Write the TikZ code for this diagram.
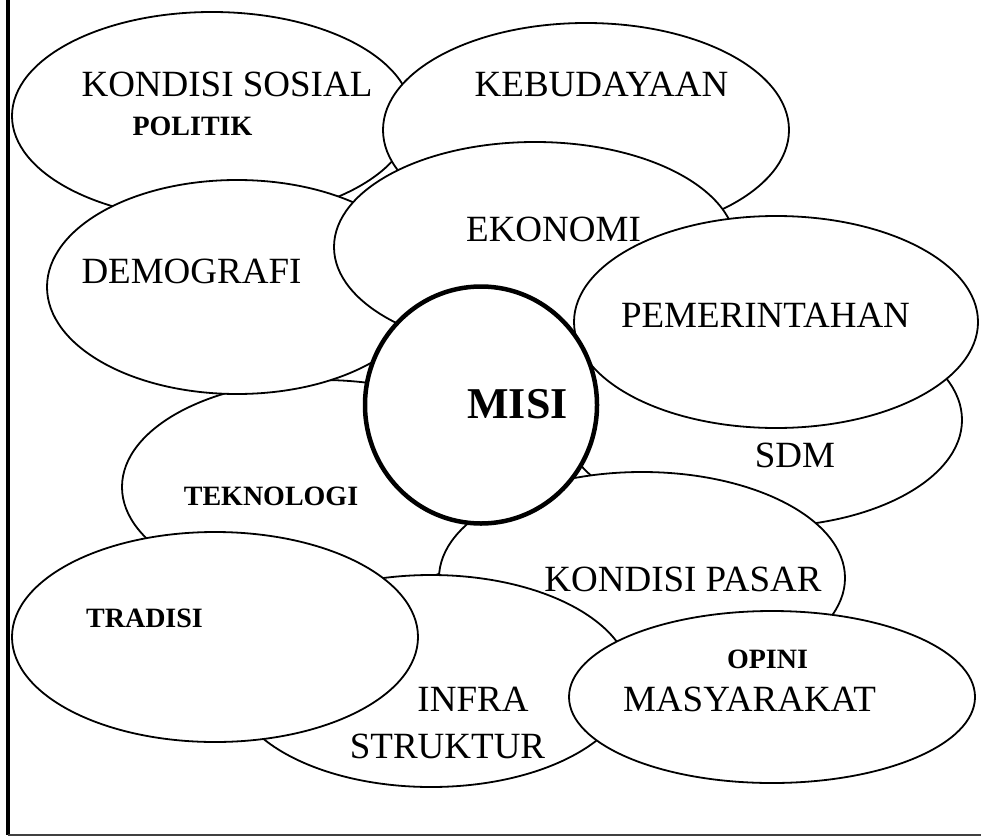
\documentclass[tikz,border=0pt]{standalone}
\usepackage{fontspec}
\setmainfont{Liberation Serif}
\usetikzlibrary{shapes.geometric}
\tikzset{
  oval/.style={ellipse, draw=black, fill=white, line width=1.8pt, inner sep=0pt, outer sep=0pt},
  misibox/.style={ellipse, draw=black, fill=white, line width=4.5pt, inner sep=0pt, outer sep=0pt},
  lbl/.style={anchor=base, inner sep=0pt, font=\fontsize{37}{40}\selectfont},
  blbl/.style={anchor=base, inner sep=0pt, font=\fontsize{28}{30}\selectfont\bfseries},
  mlbl/.style={anchor=base, inner sep=0pt, font=\fontsize{44}{46}\selectfont\bfseries}
}
\begin{document}
\begin{tikzpicture}[x=1pt,y=-1pt]
\useasboundingbox (0,0) rectangle (981,837);
% ellipses in drawing order
\node[oval, minimum width=400pt, minimum height=208pt] (ks) at (212,116) {};
\node[oval, minimum width=406pt, minimum height=214pt] (keb) at (586,130) {};
\node[oval, minimum width=400pt, minimum height=214pt] (tek) at (322,487) {};
\node[oval, minimum width=380pt, minimum height=214pt] (dem) at (237,287) {};
\node[oval, minimum width=402pt, minimum height=210pt] (eko) at (535,247) {};
\node[oval, minimum width=400pt, minimum height=214pt] (sdm) at (762,420) {};
\node[oval, minimum width=404pt, minimum height=212pt] (pem) at (776,322) {};
\node[oval, minimum width=406pt, minimum height=212pt] (kp) at (642,578) {};
\node[oval, minimum width=400pt, minimum height=212pt] (inf) at (431,681) {};
\node[oval, minimum width=406pt, minimum height=210pt] (tra) at (215,637) {};
\node[oval, minimum width=406pt, minimum height=172pt] (opi) at (772,697) {};
\node[misibox, minimum width=232pt, minimum height=237pt] (misi) at (481,405) {};
% labels
\node[lbl] (tks) at (227,97) {KONDISI SOSIAL};
\node[blbl] (tpol) at (192.5,136) {POLITIK};
\node[lbl] (tkeb) at (601.5,97) {KEBUDAYAAN};
\node[lbl] (tdem) at (191.5,283) {DEMOGRAFI};
\node[lbl] (teko) at (553.5,241) {EKONOMI};
\node[lbl] (tpem) at (765.5,327) {PEMERINTAHAN};
\node[mlbl] (tmisi) at (517.5,418) {MISI};
\node[lbl] (tsdm) at (795,467) {SDM};
\node[blbl] (ttek) at (271,505) {TEKNOLOGI};
\node[blbl] (ttra) at (144.5,627) {TRADISI};
\node[lbl] (tkp) at (683,591) {KONDISI PASAR};
\node[lbl] (tinf) at (473,711) {INFRA};
\node[lbl] (tstr) at (447.5,758) {STRUKTUR};
\node[blbl] (topi) at (767.5,668) {OPINI};
\node[lbl] (tmas) at (749.5,711) {MASYARAKAT};
% frame
\coordinate (ftop) at (8,0);
\coordinate (fcorner) at (8,835);
\coordinate (fright) at (981,835);
\draw[line width=4pt, black] (ftop) -- (fcorner);
\draw[line width=2pt, black!75] (fcorner) -- (fright);
\end{tikzpicture}
\end{document}
